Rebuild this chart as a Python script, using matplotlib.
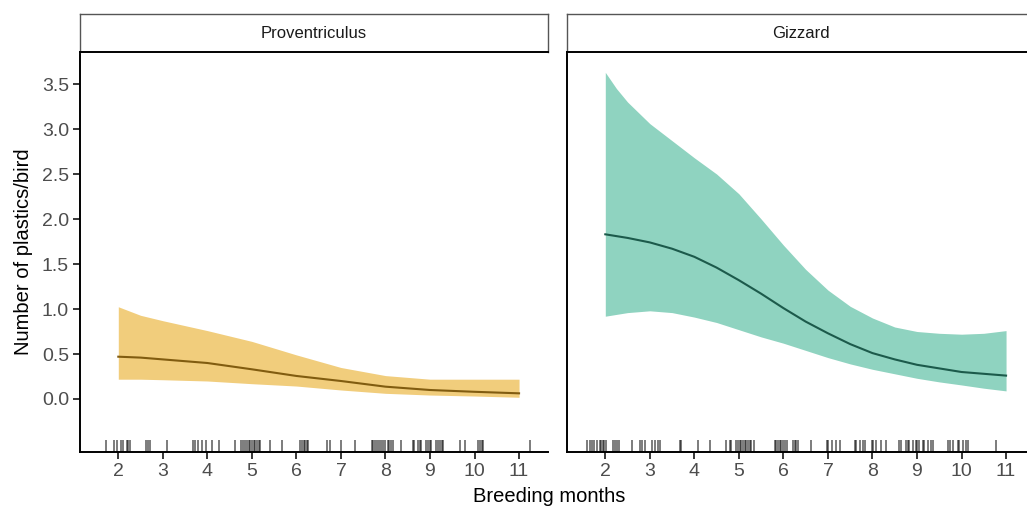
import numpy as np
import matplotlib
matplotlib.use('Agg')
import matplotlib.pyplot as plt
import matplotlib.transforms as mtransforms

plt.rcParams['font.family'] = ['Liberation Sans', 'DejaVu Sans']

# Predicted plastics per bird over breeding months, one panel per organ
panels = ['Proventriculus', 'Gizzard']

prov_month = [2, 2.5, 3, 4, 5, 6, 7, 8, 9, 10, 11]
prov_fit = [0.47, 0.46, 0.44, 0.40, 0.33, 0.256, 0.20, 0.137, 0.10, 0.08, 0.063]
prov_low = [0.22, 0.22, 0.214, 0.20, 0.17, 0.144, 0.10, 0.063, 0.044, 0.033, 0.019]
prov_high = [1.025, 0.93, 0.87, 0.76, 0.64, 0.49, 0.35, 0.26, 0.22, 0.22, 0.22]

giz_month = [2, 2.25, 2.5, 3, 3.5, 4, 4.5, 5, 5.5, 6, 6.5, 7, 7.5, 8, 8.5, 9, 9.5, 10, 10.5, 11]
giz_fit = [1.83, 1.81, 1.79, 1.74, 1.67, 1.58, 1.46, 1.32, 1.17, 1.01, 0.86, 0.73, 0.61,
           0.51, 0.44, 0.38, 0.34, 0.30, 0.28, 0.26]
giz_low = [0.92, 0.94, 0.96, 0.98, 0.96, 0.91, 0.85, 0.77, 0.69, 0.62, 0.54, 0.46, 0.39,
           0.33, 0.28, 0.23, 0.19, 0.156, 0.12, 0.09]
giz_high = [3.63, 3.45, 3.30, 3.06, 2.87, 2.68, 2.50, 2.28, 2.00, 1.71, 1.44, 1.21, 1.03,
            0.90, 0.80, 0.75, 0.73, 0.72, 0.73, 0.76]

# observed sampling months (rug)
prov_rug = [1.72, 1.90, 1.96, 2.05, 2.11, 2.19, 2.22, 2.26, 2.62, 2.66, 2.71, 3.10,
            3.67, 3.72, 3.80, 3.87, 3.97, 4.10, 4.27, 4.62, 4.75, 4.79, 4.85, 4.89,
            4.93, 4.96, 5.00, 5.04, 5.07, 5.11, 5.15, 5.19, 5.41, 5.67, 6.08, 6.12,
            6.16, 6.19, 6.23, 6.27, 6.69, 6.75, 7.01, 7.31, 7.69, 7.72, 7.76, 7.80,
            7.86, 7.91, 7.95, 7.99, 8.05, 8.09, 8.13, 8.17, 8.35, 8.62, 8.65, 8.73,
            8.77, 8.80, 8.92, 8.95, 8.99, 9.03, 9.14, 9.18, 9.22, 9.26, 9.29, 9.67,
            9.78, 10.08, 10.12, 10.16, 10.20, 11.25]
giz_rug = [1.59, 1.65, 1.70, 1.75, 1.81, 1.87, 1.90, 1.94, 1.98, 2.02, 2.17, 2.21,
           2.26, 2.31, 2.60, 2.78, 2.82, 2.90, 3.04, 3.12, 3.19, 3.23, 3.68, 3.69,
           4.09, 4.35, 4.72, 4.79, 4.83, 4.94, 4.98, 5.02, 5.05, 5.09, 5.13, 5.17,
           5.20, 5.24, 5.28, 5.35, 5.80, 5.84, 5.88, 5.92, 5.95, 5.99, 6.03, 6.07,
           6.22, 6.25, 6.29, 6.33, 6.63, 6.97, 7.00, 7.08, 7.19, 7.27, 7.60, 7.64,
           7.72, 7.79, 7.83, 7.98, 8.02, 8.08, 8.19, 8.30, 8.60, 8.64, 8.75, 8.79,
           8.83, 8.90, 8.98, 9.01, 9.05, 9.13, 9.16, 9.24, 9.31, 9.35, 9.69, 9.73,
           9.80, 9.91, 9.95, 10.03, 10.10, 10.14, 10.78]

fills = ['#f1cd7c', '#8fd3c0']
lines = ['#815c10', '#1c5a4b']

x_ticks = list(range(2, 12))
y_ticks = [0.0, 0.5, 1.0, 1.5, 2.0, 2.5, 3.0, 3.5]

W, H = 1027, 515
fig = plt.figure(figsize=(W / 100, H / 100), dpi=100)

data = [(prov_month, prov_fit, prov_low, prov_high, prov_rug),
        (giz_month, giz_fit, giz_low, giz_high, giz_rug)]
lefts = [80, 567]
pw, top, bottom, strip_h = 468, 52, 452, 38

for i, (month, fit, low, high, rug) in enumerate(data):
    ax = fig.add_axes([lefts[i] / W, (H - bottom) / H, pw / W, (bottom - top) / H])
    ax.fill_between(month, low, high, color=fills[i], lw=0)
    ax.plot(month, fit, color=lines[i], lw=1.5)

    # rug along the bottom edge
    trans = mtransforms.blended_transform_factory(ax.transData, ax.transAxes)
    ax.vlines(rug, 0, 0.03, transform=trans, color='black', alpha=0.6, lw=1.2)

    ax.set_xlim(1.14, 11.65)
    ax.set_ylim(-0.589, 3.856)
    ax.set_xticks(x_ticks)
    ax.set_yticks(y_ticks)
    ax.spines['top'].set_visible(False)
    ax.spines['right'].set_visible(False)
    ax.spines['left'].set_linewidth(1.4)
    ax.spines['bottom'].set_linewidth(1.4)
    ax.tick_params(axis='both', length=5, width=1.1, color='black',
                   labelsize=14, labelcolor='#4d4d4d', pad=3)
    if i == 0:
        ax.set_yticklabels(['%.1f' % v for v in y_ticks])
        ax.set_ylabel('Number of plastics/bird', fontsize=14.5, labelpad=6)
    else:
        ax.tick_params(axis='y', length=0, labelleft=False)

    # facet strip
    sax = fig.add_axes([lefts[i] / W, (H - top) / H, pw / W, strip_h / H])
    sax.set_xticks([])
    sax.set_yticks([])
    for side in ['top', 'left', 'right']:
        sax.spines[side].set_color('#555555')
        sax.spines[side].set_linewidth(1.0)
    sax.spines['bottom'].set_color('black')
    sax.spines['bottom'].set_linewidth(1.4)
    sax.text(0.5, 0.5, panels[i], ha='center', va='center', fontsize=12,
             color='#1a1a1a', transform=sax.transAxes)

fig.text(549 / W, 1 - 497 / H, 'Breeding months', ha='center', va='center',
         fontsize=14.5, color='black')

fig.savefig('out.png', dpi=100)
